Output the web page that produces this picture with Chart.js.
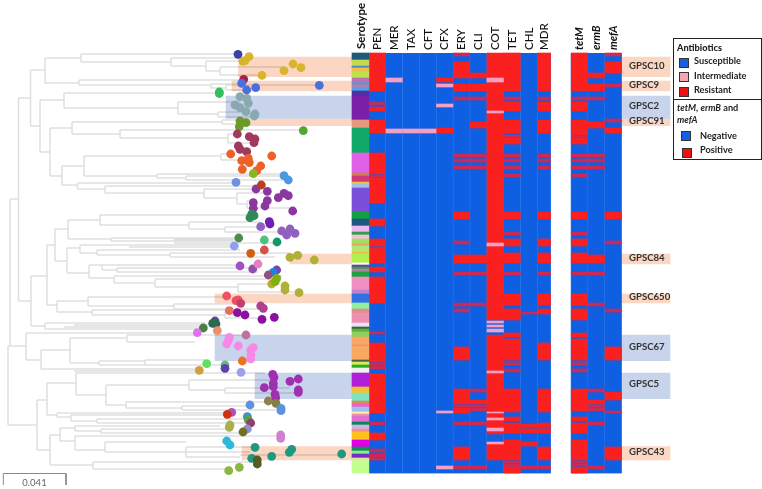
<!DOCTYPE html>
<html><head><meta charset="utf-8">
<script src="https://cdn.jsdelivr.net/npm/chart.js@4"></script>
<style>
html,body{margin:0;padding:0;background:#fff}
#wrap{position:relative;width:762px;height:489px;overflow:hidden}
canvas{position:absolute;left:0;top:0;filter:blur(0.6px)}
#lg{position:absolute;left:673px;top:38px;width:87px;height:120px;border:1.5px solid #222;font:700 9.2px Lato,sans-serif;color:#222;box-sizing:content-box;filter:blur(0.35px)}
#lg div{position:absolute;white-space:nowrap}
#lg .s{width:8px;height:8px;border:1px solid #333}
</style></head><body><div id="wrap"><canvas id="c" width="762" height="489"></canvas>
<div id="lg">
<div style="left:3px;top:3px;font-weight:900">Antibiotics</div>
<div class="s" style="left:5px;top:19px;background:#1560e0"></div><div style="left:20px;top:16px">Susceptible</div>
<div class="s" style="left:5px;top:33px;background:#f4a6b8"></div><div style="left:20px;top:31px">Intermediate</div>
<div class="s" style="left:5px;top:48px;background:#ee1010"></div><div style="left:20px;top:45px">Resistant</div>
<div style="left:0;top:60px;width:87px;height:0;border-top:1.5px solid #222"></div>
<div style="left:3px;top:63px"><i>tetM</i>, <i>ermB</i> and</div>
<div style="left:3px;top:75px"><i>mefA</i></div>
<div class="s" style="left:7px;top:92px;background:#1560e0"></div><div style="left:26px;top:91px">Negative</div>
<div class="s" style="left:8px;top:109px;background:#ee1010"></div><div style="left:26px;top:105px">Positive</div>
</div></div>
<script>
// ---- tree (layout units of the dendrogram) ----
const treeV = [[10,199,346],[8,346,425],[18.5,98,301],[30.5,70,126],[45,58,83],[81,54,62],[171,58,66],[206,61,71],[220,67,75],[79,80,85],[211,84,88],[226,85,90],[40,100,152],[64,93,108],[178,102,114],[218,112,117],[50,128,176],[72,122,134],[222,120,124],[120,130,138],[228,134,143],[62,166,185],[84,156,176],[221,154,160],[157,174,178],[186,176,180],[77.5,183,189],[105,186,193],[204,189,198],[237,193,204],[247,201,208],[31,276,326],[47,245,305],[55,229,261],[68,220,239],[100,215,225],[189,222,229],[225,227,232],[111,238,241],[67,248,273],[80,245,253],[97,250,255],[170,253,257],[89,265,278],[102,265,270],[117,268,272],[114,276,283],[155,279,287],[238,284,292],[57,301,312],[88,297,306],[174,304,309],[92,310,315],[225,312,318],[45,323,329],[26,333,360],[41,350,369],[70,338,363],[127,335,342],[99,361,365],[145,360,365],[37,400,450],[47,383,415],[76,373,395],[106,385,405],[189,380,390],[225,388,393],[126,402,408],[182,406,410],[57,413,417],[71,415,421],[97,419,423],[50,435,465],[60,428,441],[75,426,431],[101,429,433],[75,436,450],[105,442,452],[186,447,457],[93,462,469]];
const treeH = [[199,10,18.5],[98,18.5,30.5],[301,18.5,31],[70,30.5,45],[126,30.5,40],[58,45,81],[83,45,79],[54,81,238],[62,81,171],[58,171,245],[66,171,206],[61,206,243],[71,206,220],[67,220,284],[75,220,262],[80,79,243],[85,79,211],[84,211,243],[88,211,226],[85,226,320],[90,226,247],[100,40,64],[152,40,50],[93,64,220],[108,64,178],[102,178,240],[114,178,218],[112,218,245],[117,218,254],[128,50,72],[176,50,62],[122,72,222],[134,72,120],[120,222,240],[124,222,240],[130,120,303],[138,120,228],[134,228,237],[143,228,250],[166,62,84],[185,62,77.5],[156,84,221],[176,84,157],[154,221,231],[160,221,248],[174,157,283],[178,157,186],[176,186,284],[180,186,288],[183,77.5,236],[189,77.5,105],[186,105,262],[193,105,204],[189,204,255],[198,204,237],[193,237,268],[204,237,247],[201,247,253],[208,247,292],[276,31,47],[326,31,45],[245,47,55],[305,47,57],[229,55,68],[261,55,67],[220,68,100],[239,68,111],[215,100,250],[225,100,189],[222,189,260],[229,189,225],[227,225,270],[232,225,285],[238,111,234],[241,111,234],[239.5,174,234],[243,174,275],[248,67,80],[273,67,89],[245,80,129],[253,80,97],[245,129,234],[247,129,234],[250,97,240],[255,97,170],[253,170,290],[257,170,275],[265,89,102],[278,89,114],[265,102,240],[270,102,117],[268,117,253],[272,117,258],[276,114,282],[283,114,155],[279,155,272],[287,155,238],[284,238,280],[292,238,299],[301,57,88],[312,57,92],[297,88,226],[306,88,174],[304,174,240],[309,174,262],[310,92,230],[315,92,225],[312,225,240],[318,225,265],[323,45,74],[329,45,64],[323,74,205],[325,74,215],[329,64,198],[327,64,200],[346,8,26],[333,26,197],[360,26,41],[350,41,70],[369,41,74],[369,74,199],[371,74,199],[338,70,127],[363,70,99],[335,127,245],[342,127,195],[361,99,145],[365,99,225],[360,145,206],[365,145,225],[425,8,37],[400,37,47],[450,37,50],[383,47,76],[415,47,57],[373,76,265],[395,76,106],[385,106,189],[405,106,126],[380,189,270],[390,189,225],[388,225,290],[393,225,298],[402,126,268],[408,126,182],[406,182,250],[410,182,281],[413,57,231],[417,57,71],[415,71,225],[421,71,97],[419,97,248],[423,97,117],[423,117,250],[435,50,60],[465,50,93],[428,60,75],[441,60,75],[426,75,220],[431,75,101],[429,101,230],[433,101,243],[436,75,280],[450,75,105],[442,105,186],[452,105,250],[447,186,255],[457,186,240],[462,93,255],[469,93,228],[455,240,341]];
// ---- tree tips: [x, y, colour] ----
const tipGroups = [
["#3f3fa0",[[238,54.3]]],
["#d9b52f",[[249,56.7],[245,60.7],[243,61.3],[293,64],[301,67.7],[284,70.7],[262,75.3]]],
["#a02050",[[243.7,79.3]]],
["#4a70e0",[[241.7,83.3],[246.7,90],[255.7,87.7],[319.3,85.3]]],
["#30c060",[[219.3,92],[219.3,93.5]]],
["#8aa8b0",[[240,96.7],[246.7,98.3],[248.3,103.3],[235,105],[240,107.7],[246,111.7],[254.3,116],[255,114]]],
["#6a9a28",[[240,121],[246,122.7],[239.3,126.7]]],
["#50a830",[[303.3,130.7]]],
["#a03860",[[237.3,134],[249.3,136.7],[255,139],[254,142.7],[238.3,146],[240,149.3],[246.7,151.7]]],
["#ee6028",[[230.7,154],[271.7,156],[241.7,160.7],[248.3,158.3],[249.3,162.7],[242.3,169.3],[260.7,166],[256.7,170.7]]],
["#88b820",[[253.3,173.7]]],
["#4a9ae0",[[284,175.7],[288.3,180]]],
["#7090e0",[[236,182.3]]],
["#8a38a0",[[256,189],[267.3,191.3],[278.3,197.7],[284,193.3],[288.3,195.7],[253.3,202.7],[267.3,200.7],[265,206],[253.3,208.3],[292.7,211]]],
["#b84020",[[261.3,185]]],
["#2f8a58",[[251.7,214],[250,217.7],[254,215.7]]],
["#7020b0",[[269.3,221.7],[270,224]]],
["#9060c0",[[260.7,226.7],[281.7,231],[286.7,235],[290,229],[295,233.3]]],
["#508a50",[[238.7,238]]],
["#90a0f0",[[234.3,246]]],
["#50c080",[[264.3,240]]],
["#109868",[[277,242]]],
["#d85048",[[264.3,250]]],
["#d06010",[[250.7,253.3]]],
["#b0b038",[[290,257.3],[297.7,255.3],[314.3,260],[285,286],[285,290],[299,292.7],[271.7,284]]],
["#a050c0",[[240,266]]],["#9050b0",[[252.7,269]]],["#e880c0",[[258,264]]],
["#8040b0",[[276.7,270]]],["#2080e0",[[273.3,272.3]]],["#905080",[[268.3,275]]],
["#80b010",[[276.7,278.3],[275,281.7]]],
["#f05060",[[226.7,296],[236,300.7],[238.3,300]]],
["#c04070",[[240.7,303.3]]],["#b04090",[[260.7,306],[263.3,308.3]]],["#e87060",[[229.3,310.7]]],
["#8a10a0",[[237.3,312.7],[245,315],[262,319.3],[274.3,317.3]]],
["#505090",[[215,321]]],["#2a6a50",[[212.7,323.3],[216,324]]],["#4a8040",[[203.3,328]]],["#e89070",[[217.3,330.7]]],["#e070f0",[[197.3,332.7]]],["#c070a0",[[246,335]]],
["#f888e8",[[229.3,337.3],[228.3,340.7],[226.7,344],[238.3,346],[253.3,347.7],[250.7,350],[251,355],[250.7,359]]],
["#f07020",[[242.3,361]]],["#60e060",[[206.7,363.7]]],["#60c070",[[225,365]]],["#6040b0",[[225,368.3]]],["#d0a040",[[199.3,370.3]]],["#a0a0e8",[[241,372.3]]],
["#a030b0",[[272.7,374.3],[274,377.3],[290,381.3],[298.3,379],[273.3,383.3],[273.3,386.7],[264.3,387.7],[298.3,390],[298.3,392.3],[275,394.3],[275.7,397.7]]],
["#908050",[[268.3,401]]],["#808040",[[276,403.3]]],["#6090e0",[[250,405],[281,408.3],[281,410.7]]],
["#b050c0",[[231.7,412.3]]],["#d03010",[[227.3,414.3]]],["#4090c0",[[247.3,416.7]]],["#60a040",[[248.3,420]]],["#904070",[[250.7,423]]],["#9090d0",[[247.3,429]]],["#a8b050",[[230,425],[229.3,427.3]]],["#707020",[[243,432]]],
["#d080d0",[[280.7,435],[280.7,438.3]]],["#30b8d8",[[226.7,441],[230,445]]],
["#209880",[[255,447.3],[289.3,452.3],[291.7,449.3],[271.7,456.3],[341.7,454],[251.7,458.3]]],
["#5a5a20",[[257.3,460],[257.3,464]]],["#88b840",[[228.7,470.7],[239.3,467.3]]]
];
// ---- clade highlight bands: [name, y0, y1, treeStart, labelY, colour] ----
const clades = [
["GPSC10",57,76.7,238.5,66,"peach"],["GPSC9",81,90.8,232,85,"peach"],["GPSC2",96,118.5,226,106,"blue"],["GPSC91",118.5,125.7,238,121,"peach"],["GPSC84",254,264,290,258,"peach"],["GPSC650",294,303,215,297,"peach"],["GPSC67",335,360.7,215,347,"blue"],["GPSC5",373,398.7,255,384,"blue"],["GPSC43",446.7,460,242,452,"peach"]];
// ---- heat map ----
const columns = ["Serotype","PEN","MER","TAX","CFT","CFX","ERY","CLI","COT","TET","CHL","MDR","","tetM","ermB","mefA"];
const serotypeBlocks = [[53,60,"#1c5a78"],[60,66,"#c8d850"],[66,68,"#4a90d0"],[68,72,"#f0c040"],[72,78,"#bde050"],[78,82,"#c070b0"],[82,85,"#6a90d0"],[85,87,"#e07080"],[87,91,"#50a0f0"],[91,96,"#5030a0"],[96,120,"#7a20a8"],[120,128,"#e89880"],[128,153,"#10a868"],[153,173,"#e060e8"],[173,176,"#d08040"],[176,182,"#d03878"],[182,184,"#f0c040"],[184,188,"#a0c0e8"],[188,212,"#7a50d8"],[212,219,"#10a040"],[219,226,"#1c5880"],[226,232,"#f0b8f0"],[232,235,"#30a050"],[235,239,"#f4c0d8"],[239,244,"#a0e060"],[244,246,"#f0a060"],[246,252,"#b0e878"],[252,254,"#f0c040"],[254,263,"#b0f050"],[263,265,"#ffffff"],[265,267,"#7040a0"],[267,269,"#30a050"],[269,272,"#b080a0"],[272,277,"#20a040"],[277,290,"#f090c0"],[290,294,"#c080d0"],[294,303,"#3070e0"],[303,309,"#90f0a0"],[309,313,"#e09090"],[313,323,"#f090b0"],[323,327,"#e8e0f8"],[327,329,"#406030"],[329,332,"#60b040"],[332,337,"#90d060"],[337,345,"#f8a860"],[345,346,"#f080a0"],[346,360,"#f8a860"],[360,362,"#506040"],[362,365,"#d8e860"],[365,368,"#20b020"],[368,373,"#f0f0f0"],[373,387,"#b020d8"],[387,393,"#f8c030"],[393,401,"#80e0c0"],[401,404,"#d09060"],[404,407,"#f060c0"],[407,412,"#a0c0f0"],[412,414,"#f8f0c0"],[414,416,"#f090a0"],[416,422,"#e070d0"],[422,425,"#108060"],[425,429,"#c8b8e8"],[429,432,"#f09090"],[432,440,"#ffc020"],[440,447,"#e000e8"],[447,451,"#109050"],[451,454,"#90e890"],[454,458,"#7030c0"],[458,461,"#e0e8a0"],[461,473,"#c0ff90"]];
const t1=[154,157],t2=[159,162],t3=[166,169];
const PEN=[[53,91],[102,104.5],[107,111],[120,133],[153,174],[175,177],[178,203],[219,226],[239,246],[247,248],[248,263],[267,272],[277,303],[332,334],[343,362],[363,365],[366,369],[374,413],[422,425],[433,440],[449,452],[454,457],[458,460]];
const CFX=[[78,82],[128,133]];
const ERY=[[53,56],[62,78],[84,91],[97,100],t1,t2,t3,[212,219],[241,244],[255,263],[272,275],[303,306],[309,312],[347,360],[389,404],[405,407],[408,413],[422,425],[447,460],[466,469]];
const CLI=[[73,78],[84,91],[97,100],[122,128],t1,t2,t3,[255,263],[272,275],[303,306],[389,392],[400,404],[405,407],[408,411],[422,425],[466,469]];
const COT=[[53,320],[335,434],[444,460]];
const TET=[[53,91],[97,100],[102,111],[120,133],[135,137],[138,144],t1,t2,t3,[174,177],[212,219],[232,235],[239,246],[253,263],[272,275],[294,305],[309,320],[333,337],[339,360],[361,362],[363,365],[369,372],[389,412],[417,421],[423,433],[440,460],[461,463],[464,467],[467,473]];
const CHL=[[312,314],[424,428],[429,433],[442,446],[466,469]];
const MDR=[[53,91],[97,100],[102,111],[120,133],t1,t2,t3,[212,219],[239,246],[253,263],[272,275],[294,305],[309,314],[343,360],[389,412],[423,428],[429,433],[447,460],[466,469]];
const tetM=[[53,91],[97,100],[102,111],[120,135],[136,137],[138,144],t1,t2,t3,[174,177],[212,219],[232,235],[239,246],[253,263],[272,275],[294,305],[309,320],[333,337],[339,360],[361,362],[363,365],[369,372],[389,411],[417,421],[423,433],[440,460],[461,463],[464,466],[467,473]];
const ermB=[[73,78],[84,91],[97,100],[122,128],t1,t2,t3,[255,263],[272,275],[303,306],[389,392],[400,404],[405,407],[408,411],[422,425],[466,469]];
const mefA=[[53,56],[62,73],[84,87],[119,122],[128,133],[212,219],[241,244],[309,312],[347,360],[392,400],[411,413],[447,460]];
const resistant={PEN,CFX,ERY,CLI,COT,TET,CHL,MDR,tetM,ermB,mefA};
const intermediate={MER:[[78,82],[129,133]],TAX:[[129,133]],CFT:[[129,133]],CFX:[[84,87],[104,107],[411,413],[466,469]],COT:[[78,82],[111,113],[243,246],[321,323],[325,327],[329,332],[371,373],[412,413],[418,420],[428,431],[442,444]]};
const heatExtent=[53.3,473];

// styles
const BLUE="#0f5fe3",RED="#fb2020",THIN="#cc2a55",PINK="#f3a0c4",GRID="#3e8cf2",TREE="rgba(0,0,0,0.13)";
const BANDC={peach:"#fbd6c2",blue:"#c8d4ec"};
const COLW=16.85,COL0=352; // column pitch of the heat map on the page
const treeLines=[];
treeH.forEach(([y,a,b])=>treeLines.push({x:a,y},{x:b,y},{x:NaN,y:NaN}));
treeV.forEach(([x,a,b])=>treeLines.push({x,y:a},{x,y:b},{x:NaN,y:NaN}));
const tips=[],tipCols=[];
tipGroups.forEach(([c,p])=>p.forEach(([x,y])=>{tips.push({x,y});tipCols.push(c);}));

const ds=[];
const barBase={type:'bar',yAxisID:'y',grouped:false,barPercentage:1,categoryPercentage:1};
// bands
clades.forEach(([n,a,b,s,l,c])=>{
 ds.push({...barBase,xAxisID:'x',data:[{x:(s+352)/2,y:[a,b]}],barThickness:352-s,backgroundColor:BANDC[c],order:90});
 ds.push({...barBase,xAxisID:'x',data:[{x:646,y:[a,b]}],barThickness:48,backgroundColor:BANDC[c],order:90});
});
ds.push({type:'line',xAxisID:'x',yAxisID:'y',data:treeLines,borderColor:TREE,borderWidth:1.5,pointRadius:0,spanGaps:false,order:80,tension:0});
ds.push({type:'line',xAxisID:'x',yAxisID:'y',data:[{x:3.3,y:485},{x:3.3,y:473.5},{x:66,y:473.5},{x:66,y:485}],borderColor:"#8a8a8a",borderWidth:1,pointRadius:0,order:80});
ds.push({type:'scatter',xAxisID:'x',yAxisID:'y',data:tips,showLine:false,pointRadius:4.4,pointBorderWidth:0,pointBackgroundColor:tipCols,order:10,clip:false});
// serotype strip
ds.push({...barBase,xAxisID:'xc',data:serotypeBlocks.map(([a,b])=>({x:0.5,y:[a,b]})),backgroundColor:serotypeBlocks.map(r=>r[2]),barThickness:COLW,order:30});
columns.forEach((name,i)=>{
 if(i===0||name==="")return;
 const isMDR=name==="MDR";
 const cx=isMDR?11.395:i+0.5, w=isMDR?13.4:COLW;
 const common={...barBase,xAxisID:'xc'};
 ds.push({...common,data:[{x:cx,y:heatExtent}],barThickness:w,backgroundColor:GRID,order:40});
 ds.push({...common,data:[{x:cx,y:heatExtent}],barThickness:w-1,backgroundColor:BLUE,order:39});
 const r=resistant[name]||[];
 const wide=r.filter(s=>s[1]-s[0]>3.2), thin=r.filter(s=>s[1]-s[0]<=3.2);
 ds.push({...common,data:wide.map(s=>({x:cx,y:s})),barThickness:w-0.4,backgroundColor:RED,order:38});
 ds.push({...common,data:thin.map(s=>({x:cx,y:s})),barThickness:w-0.4,backgroundColor:THIN,order:37});
 ds.push({...common,data:(intermediate[name]||[]).map(s=>({x:cx,y:s})),barThickness:w-0.4,backgroundColor:PINK,order:36});
});
const textPlugin={id:'texts',afterDatasetsDraw(chart){
 const {ctx,scales:{x,y,xc}}=chart;
 ctx.save();
 ctx.textBaseline='middle';
 columns.forEach((name,i)=>{
  if(!name)return;
  ctx.save();
  ctx.translate(xc.getPixelForValue(name==="MDR"?11.395:i+0.5)+(i===0?1:0),i===0?49:50);
  ctx.rotate(-Math.PI/2);
  ctx.textAlign='left';
  ctx.fillStyle='#111';
  ctx.font=i===0?'700 11.5px Lato,sans-serif':(i>=13?'italic 700 11px Lato,sans-serif':'500 11.5px Lato,sans-serif');
  ctx.fillText(name,0,0);
  ctx.restore();
 });
 ctx.font='700 9.6px Lato,sans-serif';ctx.fillStyle='#333';ctx.textAlign='left';
 clades.forEach(c=>ctx.fillText(c[0],x.getPixelForValue(629),y.getPixelForValue(c[4])));
 ctx.font='9.5px Lato,sans-serif';ctx.fillStyle='#666';ctx.textAlign='center';
 ctx.fillText('0.041',x.getPixelForValue(34.5),y.getPixelForValue(482.5));
 ctx.restore();
}};
new Chart(document.getElementById('c'),{
 data:{datasets:ds},
 plugins:[textPlugin],
 options:{responsive:false,animation:false,layout:{padding:0,autoPadding:false},
  plugins:{legend:{display:false},tooltip:{enabled:false}},
  elements:{bar:{borderWidth:0}},
  scales:{
   x:{type:'linear',min:0,max:762,display:false,offset:false},
   xc:{type:'linear',axis:'x',min:-COL0/COLW,max:(762-COL0)/COLW,display:false,offset:false},
   y:{type:'linear',min:0,max:489,reverse:true,display:false,beginAtZero:false}
  }}
});
</script></body></html>
